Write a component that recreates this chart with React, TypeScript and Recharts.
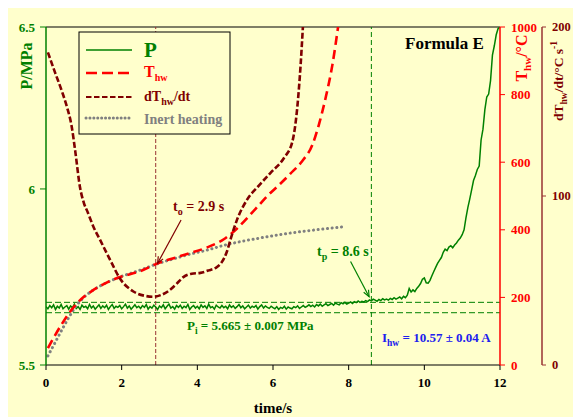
import React from 'react';
import { ComposedChart, Line, XAxis, YAxis, ReferenceLine } from 'recharts';

const FONT = '"Liberation Serif", "Times New Roman", serif';
const BG = '#FFFFCC';
const GREEN = '#008000';
const RED = '#FF0000';
const DRED = '#800000';
const DRED_AXIS = '#993333';
const GREY = '#808080';
const BLUE = '#2020EE';

// Pressure P (MPa), sampled every 0.05 s from t = 0
const pStart = 0;
const pStep = 0.05;
const pValues = [
  5.661, 5.655, 5.664, 5.658, 5.666, 5.653, 5.662, 5.657, 5.667, 5.655,
  5.660, 5.664, 5.654, 5.663, 5.658, 5.668, 5.656, 5.661, 5.653, 5.665,
  5.659, 5.662, 5.655, 5.667, 5.657, 5.663, 5.654, 5.660, 5.666, 5.656,
  5.663, 5.658, 5.665, 5.653, 5.661, 5.667, 5.656, 5.662, 5.659, 5.664,
  5.655, 5.661, 5.668, 5.657, 5.663, 5.654, 5.660, 5.666, 5.658, 5.662,
  5.656, 5.664, 5.659, 5.667, 5.654, 5.661, 5.657, 5.665, 5.660, 5.653,
  5.663, 5.658, 5.666, 5.655, 5.662, 5.668, 5.657, 5.661, 5.654, 5.664,
  5.659, 5.665, 5.656, 5.662, 5.658, 5.667, 5.653, 5.660, 5.664, 5.657,
  5.662, 5.655, 5.666, 5.659, 5.663, 5.656, 5.668, 5.658, 5.661, 5.654,
  5.665, 5.660, 5.657, 5.664, 5.658, 5.662, 5.655, 5.666, 5.659, 5.663,
  5.656, 5.661, 5.667, 5.658, 5.663, 5.655, 5.660, 5.665, 5.657, 5.662,
  5.659, 5.664, 5.654, 5.661, 5.666, 5.657, 5.663, 5.659, 5.656, 5.662,
  5.658, 5.655, 5.661, 5.653, 5.659, 5.656, 5.662, 5.654, 5.660, 5.657,
  5.655, 5.661, 5.658, 5.663, 5.656, 5.660, 5.664, 5.659, 5.662, 5.666,
  5.661, 5.665, 5.660, 5.667, 5.663, 5.668, 5.662, 5.666, 5.669, 5.664,
  5.667, 5.670, 5.665, 5.671, 5.668, 5.666, 5.672, 5.669, 5.673, 5.668,
  5.671, 5.674, 5.670, 5.675, 5.672, 5.677, 5.673, 5.676, 5.674, 5.678,
  5.675, 5.680, 5.677, 5.682, 5.679, 5.676, 5.681, 5.678, 5.683, 5.680,
  5.682, 5.679, 5.684, 5.681, 5.686, 5.682, 5.685, 5.688, 5.683, 5.690,
  5.686, 5.693, 5.712, 5.702, 5.708, 5.703, 5.712, 5.718, 5.726, 5.738,
  5.742, 5.728, 5.727, 5.735, 5.748, 5.760, 5.772, 5.783, 5.792, 5.800,
  5.815, 5.824, 5.820, 5.830, 5.834, 5.828, 5.836, 5.842, 5.850, 5.856,
  5.866, 5.880, 5.915, 5.945, 5.970, 5.997, 6.025, 6.040, 6.058, 6.068,
  6.147, 6.180, 6.240, 6.279, 6.288, 6.330, 6.410, 6.440, 6.475, 6.495,
  6.500,
];

// Hot-wire temperature T_hw (°C)
const thwTime = [0.05, 0.2, 0.4, 0.6, 0.8, 1.0, 1.2, 1.5, 1.9, 2.5, 2.93, 3.37, 3.81, 4.26, 4.7, 5.05, 5.4, 5.62, 5.85, 6.2, 6.46, 6.77, 7.04, 7.21, 7.39, 7.57, 7.72];
const thwValues = [50, 80, 118, 152, 180, 202, 218, 238, 258, 278, 300, 316, 331, 348, 372, 404, 445, 472, 500, 537, 566, 603, 651, 710, 790, 888, 1000];

// dT_hw/dt (°C/s)
const dtdtTime = [0.05, 0.24, 0.42, 0.55, 0.68, 0.77, 0.9, 1.0, 1.11, 1.25, 1.43, 1.7, 1.96, 2.31, 2.6, 2.84, 3.05, 3.25, 3.45, 3.63, 3.85, 4.08, 4.3, 4.52, 4.65, 4.78, 4.9, 5.05, 5.32, 5.62, 5.93, 6.29, 6.51, 6.64, 6.73, 6.79];
const dtdtValues = [185, 173, 162, 153, 141, 127, 105, 96, 90, 82, 74, 62, 51, 43.5, 41, 40.4, 41.5, 44, 48, 52, 54, 54.5, 56, 58, 61, 67, 76, 86, 98, 106, 113.6, 122.5, 132, 152, 177.5, 200];

// Inert heating (°C)
const inertTime = [0.05, 0.2, 0.4, 0.6, 0.8, 1.0, 1.2, 1.5, 1.9, 2.5, 2.93, 3.37, 3.81, 4.26, 4.7, 5.14, 5.62, 6.2, 6.7, 7.3, 7.87];
const inertValues = [27, 58, 100, 140, 175, 200, 218, 238, 258, 281, 299, 314, 328, 340, 354, 365, 375, 386, 394, 402, 409];

const timeTicks = [0, 2, 4, 6, 8, 10, 12];
const pTicks = [5.5, 6, 6.5];
const thwTicks = [0, 200, 400, 600, 800, 1000];
const dtdtTicks = [0, 100, 200];

const tOnset = 2.9;
const tPressure = 8.6;
const piUpper = 5.673;
const piLower = 5.644;
const onsetArrow = [{ x: 3.57, y: 429 }, { x: 2.95, y: 301 }];
const pressureArrow = [{ x: 8.05, y: 306 }, { x: 8.54, y: 202 }];

const pData = pValues.map((p, i) => ({ t: +(pStart + i * pStep).toFixed(2), p }));
const thwData = thwTime.map((t, i) => ({ t, v: thwValues[i] }));
const dtdtData = dtdtTime.map((t, i) => ({ t, v: dtdtValues[i] }));
const inertData = inertTime.map((t, i) => ({ t, v: inertValues[i] }));

const makeArrow = (color: string) => (props: any) => {
  const { x1, y1, x2, y2 } = props;
  const ang = Math.atan2(y2 - y1, x2 - x1);
  const L = 7;
  const W = 0.4;
  const ax = x2 - L * Math.cos(ang - W);
  const ay = y2 - L * Math.sin(ang - W);
  const bx = x2 - L * Math.cos(ang + W);
  const by = y2 - L * Math.sin(ang + W);
  return (
    <g>
      <line x1={x1} y1={y1} x2={x2} y2={y2} stroke={color} strokeWidth={1.2} />
      <path d={`M${ax},${ay} L${x2},${y2} L${bx},${by}`} fill="none" stroke={color} strokeWidth={1.2} />
    </g>
  );
};

const tickStyle = (fill: string, size = 13) => ({ fill, fontFamily: FONT, fontWeight: 'bold', fontSize: size });

const T_AX = 'R1';
const D_AX = 'R2';

export default function App() {
  const txt = { fontFamily: FONT, fontWeight: 'bold' as const, style: { whiteSpace: 'pre' as const } };
  return (
    <div style={{ position: 'relative', width: 573, height: 417, background: '#FFFFFF' }}>
      <style>{'html,body{margin:0;padding:0;background:#fff;}'}</style>
      <div style={{ position: 'absolute', left: 8, top: 8, width: 565, height: 409, background: BG }}>
        <ComposedChart width={565} height={409} margin={{ top: 19, right: 0, bottom: 0, left: 0 }}>
          <XAxis
            dataKey="t"
            type="number"
            domain={[0, 12]}
            ticks={timeTicks}
            interval={0}
            allowDataOverflow
            height={52}
            tickSize={5}
            tickMargin={8}
            tick={tickStyle('#000')}
            axisLine={{ stroke: '#000', strokeWidth: 1.2 }}
            tickLine={{ stroke: '#000' }}
          />
          <YAxis
            yAxisId="P"
            orientation="left"
            scale="log"
            domain={[5.5, 6.5]}
            ticks={pTicks}
            interval={0}
            allowDataOverflow
            width={38}
            tickSize={6}
            tickMargin={5}
            tick={tickStyle(GREEN)}
            axisLine={{ stroke: GREEN, strokeWidth: 1.5 }}
            tickLine={{ stroke: GREEN }}
          />
          <YAxis
            yAxisId={T_AX}
            orientation="right"
            domain={[0, 1000]}
            ticks={thwTicks}
            interval={0}
            allowDataOverflow
            width={42}
            tickSize={5}
            tickMargin={6}
            tick={tickStyle(RED)}
            axisLine={{ stroke: RED, strokeWidth: 1.5 }}
            tickLine={{ stroke: RED }}
          />
          <YAxis
            yAxisId={D_AX}
            orientation="right"
            domain={[0, 200]}
            ticks={dtdtTicks}
            interval={0}
            allowDataOverflow
            width={31}
            tickSize={4}
            tickMargin={6}
            tick={tickStyle(DRED, 12.5)}
            axisLine={{ stroke: DRED_AXIS, strokeWidth: 1.5 }}
            tickLine={{ stroke: DRED_AXIS }}
          />

          <ReferenceLine yAxisId={T_AX} y={1000} stroke="#000" strokeWidth={1.2} />
          <ReferenceLine yAxisId="P" y={piUpper} stroke={GREEN} strokeDasharray="6 3" strokeWidth={1} />
          <ReferenceLine yAxisId="P" y={piLower} stroke={GREEN} strokeDasharray="6 3" strokeWidth={1} />
          <ReferenceLine yAxisId={T_AX} x={tOnset} stroke={DRED_AXIS} strokeDasharray="4 2" strokeWidth={1} />
          <ReferenceLine yAxisId={T_AX} x={tPressure} stroke={GREEN} strokeDasharray="5 3" strokeWidth={1} />

          <Line yAxisId="P" data={pData} dataKey="p" type="linear" stroke={GREEN} strokeWidth={1.5} dot={false} isAnimationActive={false} />
          <Line yAxisId={T_AX} data={inertData} dataKey="v" type="monotone" stroke={GREY} strokeWidth={3} strokeDasharray="0.1 4.6" strokeLinecap="round" dot={false} isAnimationActive={false} />
          <Line yAxisId={T_AX} data={thwData} dataKey="v" type="monotone" stroke={RED} strokeWidth={2.6} strokeDasharray="9 5" dot={false} isAnimationActive={false} />
          <Line yAxisId={D_AX} data={dtdtData} dataKey="v" type="monotone" stroke={DRED} strokeWidth={2.6} strokeDasharray="6 2.5" dot={false} isAnimationActive={false} />

          <ReferenceLine yAxisId={T_AX} segment={onsetArrow} shape={makeArrow(DRED)} />
          <ReferenceLine yAxisId={T_AX} segment={pressureArrow} shape={makeArrow(GREEN)} />
        </ComposedChart>

        <svg width={565} height={409} style={{ position: 'absolute', left: 0, top: 0, pointerEvents: 'none' }}>
          {/* Legend */}
          <rect x={71} y={24} width={151} height={102} fill={BG} stroke="#000" strokeWidth={1} />
          <line x1={78} y1={42} x2={124} y2={42} stroke={GREEN} strokeWidth={1.5} />
          <text x={136} y={49} fill={GREEN} fontSize={21} {...txt}>P</text>
          <line x1={78} y1={65} x2={121} y2={65} stroke={RED} strokeWidth={2.5} strokeDasharray="11 5" />
          <text x={136} y={69} fill={RED} fontSize={16} {...txt}>
            <tspan>T</tspan>
            <tspan fontSize={10} dy={4}>hw</tspan>
          </text>
          <line x1={78} y1={89} x2={125} y2={89} stroke={DRED} strokeWidth={2} strokeDasharray="5.5 2.5" />
          <text x={136} y={93} fill={DRED} fontSize={14} {...txt}>
            <tspan>dT</tspan>
            <tspan fontSize={10} dy={4}>hw</tspan>
            <tspan dy={-4}>/dt</tspan>
          </text>
          <line x1={78} y1={110} x2={124} y2={110} stroke={GREY} strokeWidth={3} strokeDasharray="0.1 3.8" strokeLinecap="round" />
          <text x={136} y={116} fill={GREY} fontSize={14} {...txt}>Inert heating</text>

          {/* Formula */}
          <text x={397} y={41} fill="#000" fontSize={17} {...txt}>Formula E</text>

          {/* Annotations */}
          <text x={165} y={203} fill={DRED} fontSize={14} {...txt}>
            <tspan>t</tspan>
            <tspan fontSize={10} dy={4}>o</tspan>
            <tspan dy={-4}> = 2.9 s</tspan>
          </text>
          <text x={309} y={248} fill={GREEN} fontSize={14} {...txt}>
            <tspan>t</tspan>
            <tspan fontSize={10} dy={4}>p</tspan>
            <tspan dy={-4}> = 8.6 s</tspan>
          </text>
          <text x={179} y={322} fill={GREEN} fontSize={13} {...txt}>
            <tspan>P</tspan>
            <tspan fontSize={9.5} dy={4}>i</tspan>
            <tspan dy={-4}> = 5.665 ± 0.007 MPa</tspan>
          </text>
          <text x={374} y={334} fill={BLUE} fontSize={13} {...txt}>
            <tspan>I</tspan>
            <tspan fontSize={9.5} dy={4}>hw</tspan>
            <tspan dy={-4}> = 10.57 ± 0.04 A</tspan>
          </text>

          {/* Axis titles */}
          <text x={265} y={405} textAnchor="middle" fill="#000" fontSize={15} {...txt}>time/s</text>
          <text transform="translate(24,58) rotate(-90)" textAnchor="middle" fill={GREEN} fontSize={16} {...txt}>P/MPa</text>
          <text transform="translate(519,50) rotate(-90)" textAnchor="middle" fill={RED} fontSize={16} {...txt}>
            <tspan>T</tspan>
            <tspan fontSize={11} dy={4}>hw</tspan>
            <tspan dy={-4}>/°C</tspan>
          </text>
          <text transform="translate(555,73) rotate(-90)" textAnchor="middle" fill={DRED} fontSize={13.5} {...txt}>
            <tspan>dT</tspan>
            <tspan fontSize={9.5} dy={4}>hw</tspan>
            <tspan dy={-4}>/dt/°C s</tspan>
            <tspan fontSize={9.5} dy={-6}>-1</tspan>
          </text>
        </svg>
      </div>
    </div>
  );
}
